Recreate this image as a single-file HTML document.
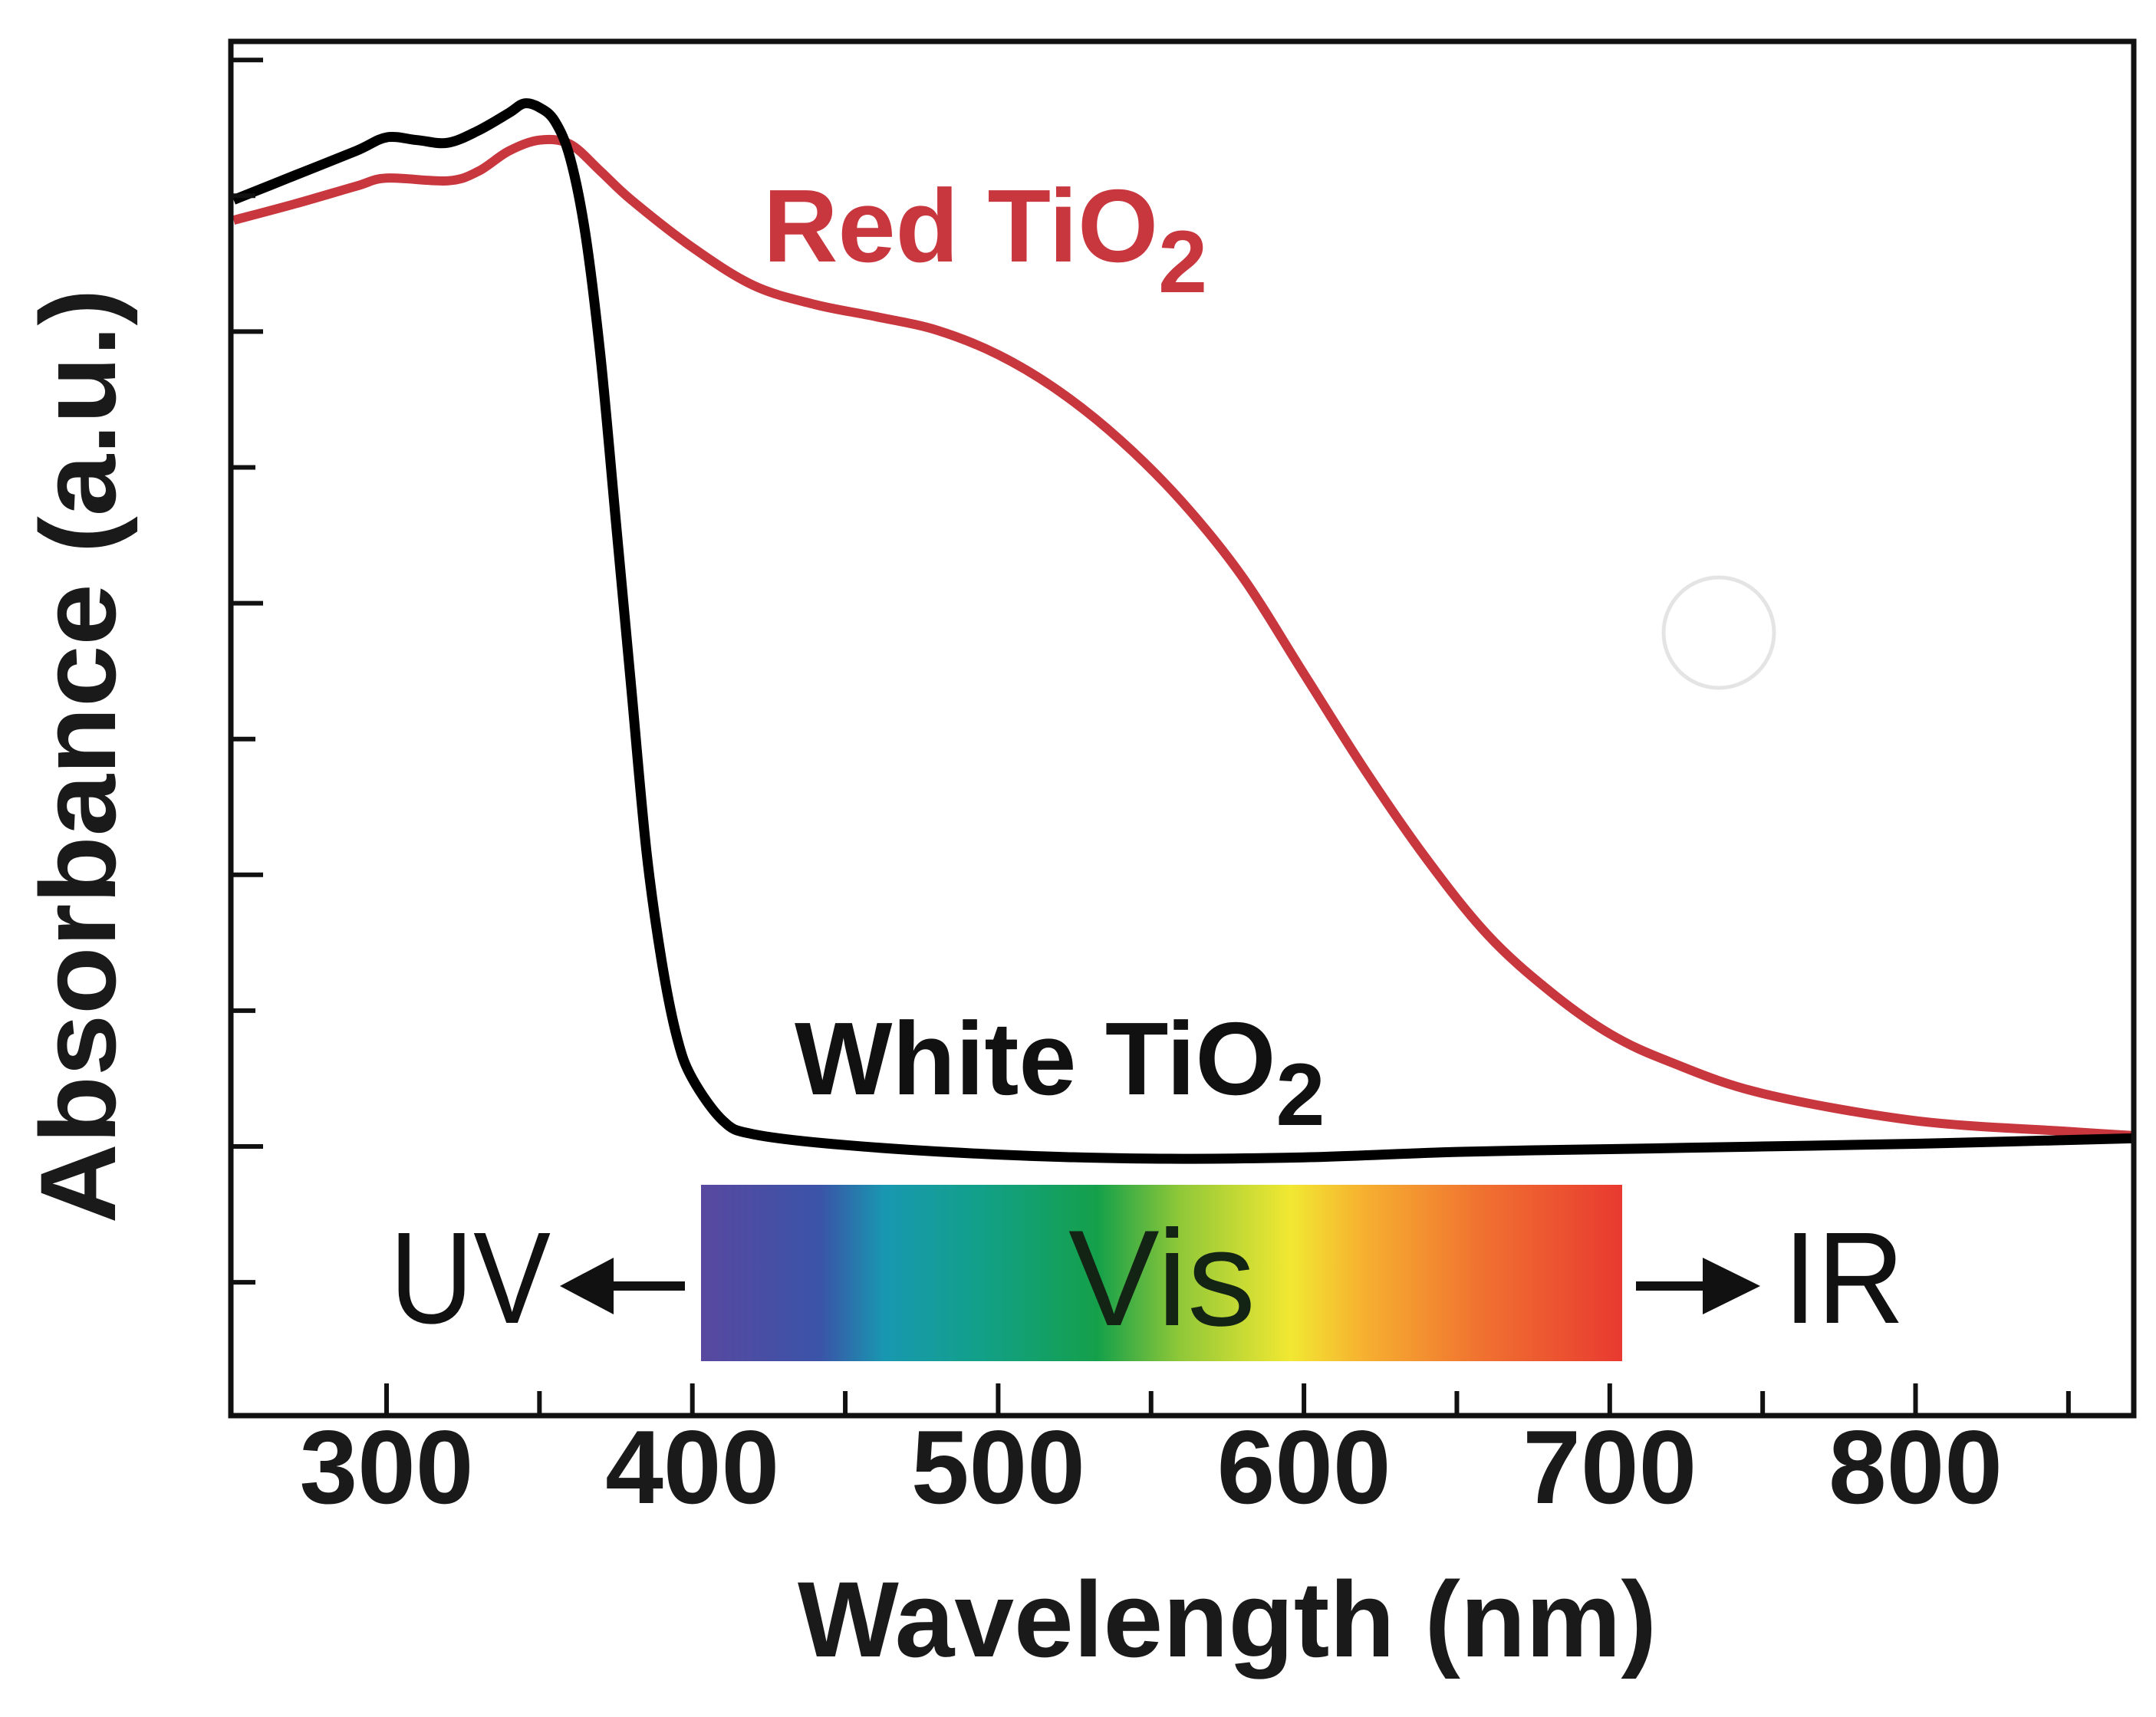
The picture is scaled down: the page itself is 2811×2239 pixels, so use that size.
<!DOCTYPE html>
<html><head><meta charset="utf-8"><style>
html,body{margin:0;padding:0;background:#fff;}
svg{display:block;font-family:"Liberation Sans",Arial,sans-serif;}
</style></head><body>
<svg id="chart" width="2811" height="2239" viewBox="0 0 2811 2239" xmlns="http://www.w3.org/2000/svg">
<defs>
<linearGradient id="spec" x1="0" x2="1" y1="0" y2="0">
<stop offset="0" stop-color="#5848a0"/>
<stop offset="0.13" stop-color="#3a54a8"/>
<stop offset="0.2" stop-color="#1898b0"/>
<stop offset="0.3" stop-color="#12a08a"/>
<stop offset="0.43" stop-color="#14a04a"/>
<stop offset="0.52" stop-color="#90c838"/>
<stop offset="0.64" stop-color="#f2e832"/>
<stop offset="0.72" stop-color="#f6b030"/>
<stop offset="0.85" stop-color="#f07030"/>
<stop offset="1" stop-color="#e83a30"/>
</linearGradient>
</defs>
<g id="plot"></g>
</svg>
<script>
const whiteNm = [250,270,290,300,310,320,330,340,345,350,355,360,365,370,375,380,385,390,395,400,410,420,450,500,550,600,650,700,750,800,871];
const whiteAbs = [6.97,7.15,7.33,7.43,7.41,7.39,7.48,7.61,7.68,7.65,7.55,7.28,6.72,5.81,4.6,3.38,2.17,1.36,0.8,0.5,0.19,0.09,0.01,-0.06,-0.09,-0.08,-0.04,-0.02,0,0.02,0.06];
const redNm = [250,270,290,300,320,330,340,350,360,370,380,400,420,440,460,480,500,520,540,560,580,600,620,640,660,680,700,720,750,800,850,871];
const redAbs = [6.82,6.94,7.07,7.13,7.11,7.18,7.33,7.41,7.38,7.18,6.97,6.62,6.34,6.2,6.11,6.01,5.83,5.56,5.2,4.75,4.19,3.48,2.77,2.12,1.56,1.15,0.83,0.62,0.39,0.19,0.11,0.08];
const xTickLabels = ["300","400","500","600","700","800"];
const xTickValues = [300,400,500,600,700,800];
const xMinorValues = [350,450,550,650,750,850];
const yMajorValues = [0,2,4,6,8];
const yMinorValues = [-1,1,3,5,7];

const X0=301, X1=2782, Y0=54, Y1=1846;
function xs(nm){return 504+(nm-300)*3.987;}
function ys(v){return 1495-v*177.1;}
const NS="http://www.w3.org/2000/svg";
const g=document.getElementById('plot');
function mk(tag,attrs){const e=document.createElementNS(NS,tag);for(const k in attrs)e.setAttribute(k,attrs[k]);g.appendChild(e);return e;}

let c=mk('circle',{cx:2241,cy:825,r:72,fill:'none',stroke:'#e4e4e4','stroke-width':5});



let bar=mk('rect',{x:914,y:1545,width:1201,height:230,fill:'url(#spec)'});


let vis=mk('text',{x:1515,y:1728,'font-size':178,'text-anchor':'middle',fill:'#142414'});vis.textContent='Vis';


let uv=mk('text',{x:508,y:1725,'font-size':170,fill:'#111',textLength:210,lengthAdjust:'spacingAndGlyphs'});uv.textContent='UV';


let ir=mk('text',{x:2325,y:1725,'font-size':170,fill:'#111',textLength:158,lengthAdjust:'spacingAndGlyphs'});ir.textContent='IR';


let a1=mk('path',{d:'M893 1677 L790 1677',stroke:'#111','stroke-width':12,fill:'none'});


let a1h=mk('polygon',{points:'730,1677 800,1640 800,1714',fill:'#111'});


let a2=mk('path',{d:'M2133 1677 L2225 1677',stroke:'#111','stroke-width':12,fill:'none'});


let a2h=mk('polygon',{points:'2295,1677 2220,1640 2220,1714',fill:'#111'});



function smooth(nms,vals){
  const p=nms.map((n,i)=>[xs(n),ys(vals[i])]);
  let d='M'+p[0][0].toFixed(1)+' '+p[0][1].toFixed(1);
  for(let i=0;i<p.length-1;i++){
    const p0=p[Math.max(0,i-1)],p1=p[i],p2=p[i+1],p3=p[Math.min(p.length-1,i+2)];
    const t=1/6;
    const c1=[p1[0]+(p2[0]-p0[0])*t,p1[1]+(p2[1]-p0[1])*t];
    const c2=[p2[0]-(p3[0]-p1[0])*t,p2[1]-(p3[1]-p1[1])*t];
    d+=' C'+c1[0].toFixed(1)+' '+c1[1].toFixed(1)+' '+c2[0].toFixed(1)+' '+c2[1].toFixed(1)+' '+p2[0].toFixed(1)+' '+p2[1].toFixed(1);
  }
  return d;
}
let red=mk('path',{d:smooth(redNm,redAbs),fill:'none',stroke:'#c8363e','stroke-width':12,'stroke-linejoin':'round'});


let wht=mk('path',{d:smooth(whiteNm,whiteAbs),fill:'none',stroke:'#000','stroke-width':13,'stroke-linejoin':'round'});



let rl=mk('text',{x:995,y:341,'font-size':135,'font-weight':'bold',fill:'#c8363e'});
rl.innerHTML='Red TiO<tspan dy="40" font-size="115">2</tspan>';


let wl=mk('text',{x:1036,y:1427,'font-size':135,'font-weight':'bold',fill:'#111'});
wl.innerHTML='White TiO<tspan dy="40" font-size="115">2</tspan>';



xTickValues.forEach((v,i)=>{
  let t=mk('line',{x1:xs(v),x2:xs(v),y1:Y1,y2:Y1-42,stroke:'#111','stroke-width':6});
  
  
  let l=mk('text',{x:xs(v),y:1960,'font-size':136,'font-weight':'bold','text-anchor':'middle',fill:'#1a1a1a'});
  l.textContent=xTickLabels[i];
  
  
});
xMinorValues.forEach(v=>{
  let t=mk('line',{x1:xs(v),x2:xs(v),y1:Y1,y2:Y1-32,stroke:'#111','stroke-width':6});
  
  
});
yMajorValues.forEach(v=>{
  let t=mk('line',{x1:X0,x2:X0+42,y1:ys(v),y2:ys(v),stroke:'#111','stroke-width':6});
  
  
});
yMinorValues.forEach(v=>{
  let t=mk('line',{x1:X0,x2:X0+32,y1:ys(v),y2:ys(v),stroke:'#111','stroke-width':6});
  
  
});

let fr=mk('rect',{x:X0,y:Y0,width:X1-X0,height:Y1-Y0,fill:'none',stroke:'#111','stroke-width':7});



let xt=mk('text',{x:1040,y:2160,'font-size':140,'font-weight':'bold',fill:'#1a1a1a',textLength:1120,lengthAdjust:'spacingAndGlyphs'});
xt.textContent='Wavelength (nm)';


let yt=mk('text',{x:0,y:0,'font-size':140,'font-weight':'bold',fill:'#1a1a1a','text-anchor':'middle',textLength:1219,lengthAdjust:'spacingAndGlyphs',transform:'translate(150,986) rotate(-90)'});
yt.textContent='Absorbance (a.u.)';


</script>
</body></html>
